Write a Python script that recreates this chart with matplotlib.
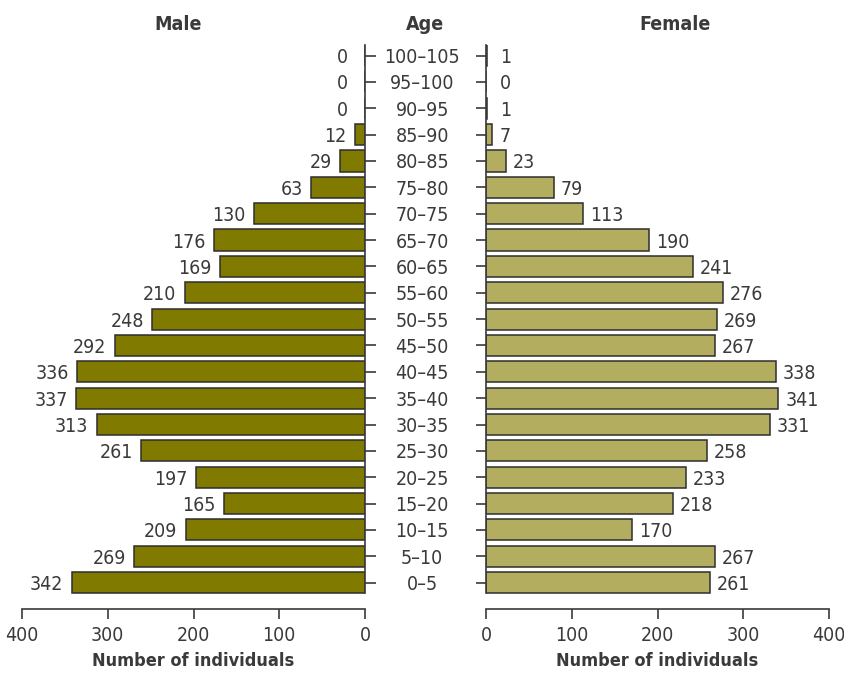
import matplotlib
matplotlib.use("Agg")
import matplotlib.pyplot as plt
from matplotlib import font_manager

# Age groups and counts, bottom (youngest) to top
ages = ['0–5', '5–10', '10–15', '15–20', '20–25', '25–30', '30–35', '35–40',
        '40–45', '45–50', '50–55', '55–60', '60–65', '65–70', '70–75',
        '75–80', '80–85', '85–90', '90–95', '95–100', '100–105']
male = [342, 269, 209, 165, 197, 261, 313, 337, 336, 292, 248, 210, 169,
        176, 130, 63, 29, 12, 0, 0, 0]
female = [261, 267, 170, 218, 233, 258, 331, 341, 338, 267, 269, 276, 241,
          190, 113, 79, 23, 7, 1, 0, 1]
xticks = [0, 100, 200, 300, 400]

# look for a narrow / condensed face, the original uses one
def is_narrow(f):
    st = f.stretch
    if isinstance(st, str):
        return st in ('condensed', 'semi-condensed', 'extra-condensed', 'ultra-condensed') \
            or 'Narrow' in f.name or 'Condensed' in f.name
    return st < 500

narrow_fonts = [f for f in font_manager.fontManager.ttflist
                if is_narrow(f) and f.style == 'normal']
family = 'Liberation Sans'
if narrow_fonts:
    family = narrow_fonts[0].name
    plt.rcParams['font.stretch'] = 'condensed'
plt.rcParams['font.family'] = [family, 'DejaVu Sans']

ink = '#3a3a3a'
male_col = '#807a00'
female_col = '#b3ad60'
edge = '#2e2e2e'
fs = 14

W, H = 844, 673
fig = plt.figure(figsize=(W / 100, H / 100), dpi=100)

def px_box(x0, x1, ytop, ybot):
    return [x0 / W, 1 - ybot / H, (x1 - x0) / W, (ybot - ytop) / H]

ax_l = fig.add_axes(px_box(22, 365, 45, 609))
ax_r = fig.add_axes(px_box(486, 829, 45, 609))

ypos = list(range(len(ages)))

for ax, vals, col, side in [(ax_l, male, male_col, 'right'), (ax_r, female, female_col, 'left')]:
    ax.barh(ypos, vals, height=0.8, color=col, edgecolor=edge, linewidth=1.1)
    ax.set_xlim(0, 400)
    ax.set_ylim(-1.0, 20.4)
    for s in ['top', 'left', 'right', 'bottom']:
        ax.spines[s].set_visible(False)
    ax.spines[side].set_visible(True)
    ax.spines['bottom'].set_visible(True)
    ax.spines[side].set_bounds(-0.4, 20.4)
    ax.spines['bottom'].set_bounds(0, 400)
    for s in [side, 'bottom']:
        ax.spines[s].set_color(ink)
        ax.spines[s].set_linewidth(1.2)
    ax.set_xticks(xticks)
    ax.tick_params(axis='x', length=7.5, width=1.2, color=ink, labelcolor=ink,
                   labelsize=fs, pad=5)
    ax.set_yticks(ypos)
    ax.set_xlabel('Number of individuals', fontsize=fs - 1, fontweight='bold',
                  color=ink, labelpad=5)
    ax.patch.set_alpha(0)

ax_l.invert_xaxis()
ax_l.yaxis.tick_right()
ax_l.tick_params(axis='y', length=8, width=1.2, color=ink, labelright=False)
ax_r.tick_params(axis='y', length=7, width=1.2, color=ink, labelcolor=ink,
                 labelsize=fs, pad=39)
ax_r.set_yticklabels(ages, ha='center', va='center_baseline')

# value labels
for y, v in zip(ypos, male):
    ax_l.annotate(str(v), (max(v, 10), y), xytext=(-6, 0), textcoords='offset points',
                  ha='right', va='center_baseline', fontsize=fs, color=ink)
for y, v in zip(ypos, female):
    ax_r.annotate(str(v), (max(v, 8), y), xytext=(5, 0), textcoords='offset points',
                  ha='left', va='center_baseline', fontsize=fs, color=ink)

# panel headings
fig.text(178 / W, 1 - 25 / H, 'Male', ha='center', va='center', fontsize=fs,
         fontweight='bold', color=ink)
fig.text(425 / W, 1 - 25 / H, 'Age', ha='center', va='center', fontsize=fs,
         fontweight='bold', color=ink)
fig.text(675 / W, 1 - 25 / H, 'Female', ha='center', va='center', fontsize=fs,
         fontweight='bold', color=ink)

fig.savefig('out.png', dpi=100)
